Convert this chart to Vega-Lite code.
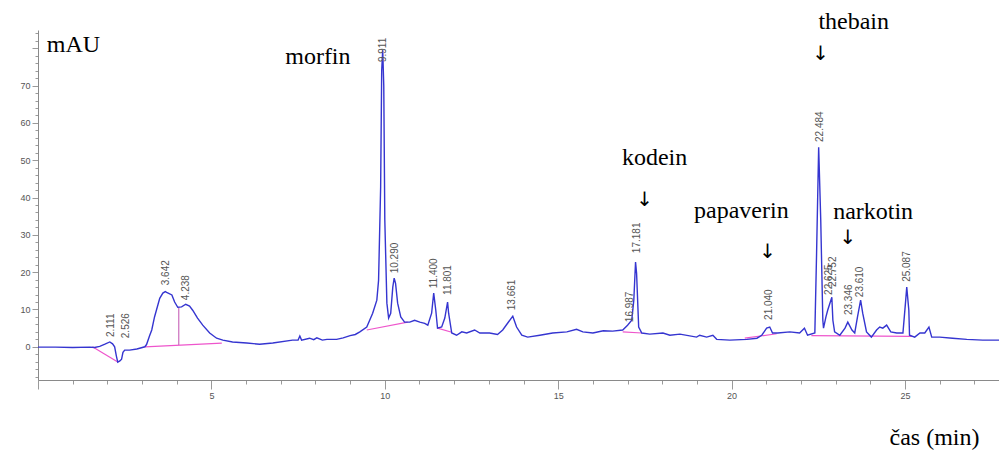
{
  "$schema": "https://vega.github.io/schema/vega-lite/v6.json",
  "width": 961,
  "height": 350,
  "autosize": "none",
  "padding": {"left": 38, "top": 30, "right": 0, "bottom": 72},
  "background": "white",
  "config": {"view": {"stroke": null}, "font": "Liberation Sans"},
  "datasets": {
    "trace": [
      {"t":0,"v":-0.1},{"t":0.5,"v":-0.1},{"t":1.0,"v":-0.2},{"t":1.49,"v":-0.1},{"t":1.63,"v":-0.2},{"t":1.78,"v":0.1},{"t":1.93,"v":0.7},{"t":2.07,"v":1.3},{"t":2.15,"v":0.8},{"t":2.21,"v":0.0},{"t":2.26,"v":-2.5},{"t":2.30,"v":-4.1},{"t":2.36,"v":-3.8},{"t":2.41,"v":-3.3},{"t":2.45,"v":-1.5},{"t":2.50,"v":-0.9},{"t":2.64,"v":-0.9},{"t":2.85,"v":-0.6},{"t":2.93,"v":-0.4},{"t":3.08,"v":0.0},{"t":3.13,"v":0.6},{"t":3.22,"v":3.0},{"t":3.28,"v":4.5},{"t":3.36,"v":8.0},{"t":3.42,"v":10.0},{"t":3.51,"v":13.0},{"t":3.60,"v":14.4},{"t":3.67,"v":14.8},{"t":3.71,"v":14.6},{"t":3.86,"v":13.9},{"t":3.94,"v":12.0},{"t":4.03,"v":10.6},{"t":4.14,"v":10.7},{"t":4.26,"v":11.4},{"t":4.37,"v":10.9},{"t":4.46,"v":9.8},{"t":4.60,"v":7.7},{"t":4.75,"v":5.8},{"t":4.95,"v":3.7},{"t":5.15,"v":2.3},{"t":5.33,"v":1.8},{"t":5.61,"v":1.3},{"t":6.02,"v":1.0},{"t":6.39,"v":0.7},{"t":6.77,"v":1.0},{"t":7.34,"v":1.8},{"t":7.50,"v":1.8},{"t":7.55,"v":2.9},{"t":7.60,"v":1.8},{"t":7.83,"v":2.3},{"t":7.95,"v":1.9},{"t":8.04,"v":2.4},{"t":8.20,"v":1.8},{"t":8.33,"v":2.0},{"t":8.61,"v":2.0},{"t":8.80,"v":2.4},{"t":9.00,"v":3.0},{"t":9.15,"v":3.3},{"t":9.28,"v":4.0},{"t":9.48,"v":5.3},{"t":9.65,"v":9.0},{"t":9.77,"v":12.5},{"t":9.82,"v":17.8},{"t":9.88,"v":42.8},{"t":9.91,"v":74},{"t":9.94,"v":79.5},{"t":9.97,"v":70},{"t":10.00,"v":34},{"t":10.06,"v":11.7},{"t":10.11,"v":7.7},{"t":10.17,"v":9.0},{"t":10.23,"v":16},{"t":10.27,"v":18.4},{"t":10.31,"v":17},{"t":10.37,"v":11.7},{"t":10.46,"v":8.0},{"t":10.57,"v":6.6},{"t":10.72,"v":6.6},{"t":10.86,"v":7.1},{"t":11.01,"v":6.6},{"t":11.15,"v":6.3},{"t":11.24,"v":5.8},{"t":11.35,"v":9.0},{"t":11.41,"v":14.4},{"t":11.47,"v":9.8},{"t":11.52,"v":5.0},{"t":11.64,"v":5.3},{"t":11.73,"v":7.7},{"t":11.81,"v":12.0},{"t":11.84,"v":9.0},{"t":11.93,"v":3.7},{"t":12.07,"v":3.1},{"t":12.22,"v":4.0},{"t":12.36,"v":3.7},{"t":12.59,"v":4.5},{"t":12.74,"v":3.7},{"t":13.02,"v":3.7},{"t":13.25,"v":3.3},{"t":13.40,"v":4.5},{"t":13.54,"v":6.3},{"t":13.69,"v":8.2},{"t":13.80,"v":5.3},{"t":13.95,"v":3.1},{"t":14.12,"v":2.6},{"t":14.47,"v":3.1},{"t":14.84,"v":3.7},{"t":15.25,"v":4.0},{"t":15.53,"v":4.7},{"t":15.71,"v":4.0},{"t":16.0,"v":3.7},{"t":16.30,"v":4.3},{"t":16.57,"v":4.2},{"t":16.86,"v":4.5},{"t":17.00,"v":5.8},{"t":17.12,"v":7.1},{"t":17.18,"v":12.5},{"t":17.23,"v":22.7},{"t":17.26,"v":19.7},{"t":17.32,"v":5.3},{"t":17.41,"v":3.7},{"t":17.64,"v":3.4},{"t":18.02,"v":3.7},{"t":18.22,"v":3.1},{"t":18.51,"v":3.4},{"t":18.99,"v":2.6},{"t":19.08,"v":3.1},{"t":19.28,"v":2.6},{"t":19.46,"v":3.1},{"t":19.57,"v":2.0},{"t":19.95,"v":1.8},{"t":20.44,"v":2.0},{"t":20.73,"v":2.3},{"t":20.87,"v":3.1},{"t":21.01,"v":5.0},{"t":21.10,"v":5.3},{"t":21.18,"v":3.7},{"t":21.33,"v":3.7},{"t":21.68,"v":4.0},{"t":21.96,"v":3.7},{"t":22.10,"v":5.0},{"t":22.19,"v":3.1},{"t":22.40,"v":3.7},{"t":22.45,"v":25},{"t":22.51,"v":53.5},{"t":22.57,"v":34},{"t":22.63,"v":7.1},{"t":22.65,"v":5.0},{"t":22.72,"v":8.0},{"t":22.77,"v":9.8},{"t":22.89,"v":13.3},{"t":22.92,"v":7.1},{"t":22.97,"v":4.0},{"t":23.12,"v":3.1},{"t":23.27,"v":5.0},{"t":23.35,"v":6.6},{"t":23.47,"v":4.5},{"t":23.55,"v":3.7},{"t":23.63,"v":8.0},{"t":23.72,"v":12.5},{"t":23.78,"v":9.0},{"t":23.89,"v":4.0},{"t":24.03,"v":2.6},{"t":24.18,"v":4.5},{"t":24.27,"v":5.3},{"t":24.36,"v":5.0},{"t":24.47,"v":5.8},{"t":24.59,"v":4.0},{"t":24.76,"v":3.7},{"t":24.94,"v":3.7},{"t":25.02,"v":12.5},{"t":25.05,"v":16},{"t":25.11,"v":9.8},{"t":25.13,"v":3.1},{"t":25.28,"v":2.6},{"t":25.43,"v":3.7},{"t":25.57,"v":3.7},{"t":25.69,"v":5.3},{"t":25.77,"v":2.6},{"t":26.0,"v":2.6},{"t":26.37,"v":2.3},{"t":26.78,"v":2.0},{"t":27.24,"v":1.8},{"t":27.71,"v":1.8}
    ],
    "base": [
      {"seg":"a","t":1.57,"v":0},{"seg":"a","t":2.30,"v":-4.1},
      {"seg":"c","t":3.08,"v":0.0},{"seg":"c","t":5.30,"v":1.0},
      {"seg":"d","t":9.48,"v":4.5},{"seg":"d","t":10.66,"v":6.6},
      {"seg":"e","t":11.52,"v":5.0},{"seg":"e","t":11.93,"v":3.9},
      {"seg":"f","t":16.86,"v":4.0},{"seg":"f","t":17.41,"v":3.7},
      {"seg":"g","t":20.38,"v":2.3},{"seg":"g","t":21.30,"v":3.5},
      {"seg":"h","t":22.30,"v":3.0},{"seg":"h","t":25.20,"v":2.8}
    ],
    "drop": [{"t":4.06,"v":10.6,"v2":0.5}],
    "labels": [
      {"t":2.10,"v":2.6,"label":"2.111"},
      {"t":2.53,"v":2.3,"label":"2.526"},
      {"t":3.68,"v":16.5,"label":"3.642"},
      {"t":4.26,"v":12.5,"label":"4.238"},
      {"t":9.94,"v":76.3,"label":"9.911"},
      {"t":10.29,"v":19.7,"label":"10.290"},
      {"t":11.41,"v":15.7,"label":"11.400"},
      {"t":11.81,"v":13.9,"label":"11.801"},
      {"t":13.66,"v":9.8,"label":"13.661"},
      {"t":17.06,"v":6.6,"label":"16.987"},
      {"t":17.26,"v":25.1,"label":"17.181"},
      {"t":21.07,"v":7.2,"label":"21.040"},
      {"t":22.54,"v":54.9,"label":"22.484"},
      {"t":22.80,"v":13.9,"label":"22.625"},
      {"t":22.91,"v":16.0,"label":"22.752"},
      {"t":23.38,"v":8.5,"label":"23.346"},
      {"t":23.70,"v":13.3,"label":"23.610"},
      {"t":25.05,"v":17.4,"label":"25.087"}
    ],
    "names": [
      {"t":8.07,"v":77.6,"name":"morfin"},
      {"t":17.78,"v":50.6,"name":"kodein"},
      {"t":20.28,"v":36.4,"name":"papaverin"},
      {"t":24.08,"v":36.1,"name":"narkotin"},
      {"t":23.52,"v":87.1,"name":"thebain"}
    ],
    "arrows": [
      {"t":17.49,"v":39.3,"name":"↓"},
      {"t":21.04,"v":25.4,"name":"↓"},
      {"t":23.35,"v":29.2,"name":"↓"},
      {"t":22.57,"v":78.5,"name":"↓"}
    ]
  },
  "encoding": {
    "x": {
      "field": "t", "type": "quantitative",
      "scale": {"domain": [0, 27.71], "nice": false, "zero": false},
      "axis": {
        "values": [0,1,2,3,4,5,6,7,8,9,10,11,12,13,14,15,16,17,18,19,20,21,22,23,24,25,26,27],
        "labelExpr": "datum.value % 5 === 0 && datum.value > 0 ? datum.label : ''",
        "tickSize": {"condition": {"test": "datum.value % 5 === 0", "value": 9}, "value": 4},
        "labelOverlap": false, "labelFlush": false,
        "grid": false,
        "domainColor": "#8a8a8a", "tickColor": "#9a9a9a",
        "labelColor": "#555", "labelFontSize": 9, "labelPadding": 2,
        "title": "čas (min)", "titleFont": "Liberation Serif", "titleFontSize": 24,
        "titleFontWeight": "normal", "titleColor": "#000",
        "titleX": 896, "titleY": 57, "titleAlign": "center", "titleBaseline": "middle"
      }
    },
    "y": {
      "field": "v", "type": "quantitative",
      "scale": {"domain": [-8.9, 84.9], "nice": false, "zero": false},
      "axis": {
        "values": [-8,-6,-4,-2,0,2,4,6,8,10,12,14,16,18,20,22,24,26,28,30,32,34,36,38,40,42,44,46,48,50,52,54,56,58,60,62,64,66,68,70,72,74,76,78,80,82,84],
        "labelExpr": "datum.value % 10 === 0 && datum.value >= 0 && datum.value <= 70 ? datum.label : ''",
        "tickSize": {"condition": {"test": "datum.value % 10 === 0", "value": 6}, "value": 3},
        "labelOverlap": false, "labelFlush": false,
        "grid": false,
        "domainColor": "#8a8a8a", "tickColor": "#9a9a9a",
        "labelColor": "#555", "labelFontSize": 9, "labelPadding": 2,
        "title": "mAU", "titleFont": "Liberation Serif", "titleFontSize": 24,
        "titleFontWeight": "normal", "titleColor": "#000", "titleAngle": 0,
        "titleX": 35, "titleY": 14, "titleAlign": "center", "titleBaseline": "middle"
      }
    }
  },
  "layer": [
    {"data": {"name": "base"}, "mark": {"type": "line", "color": "#ee55cc", "strokeWidth": 1.2}, "encoding": {"detail": {"field": "seg"}}},
    {"data": {"name": "drop"}, "mark": {"type": "rule", "color": "#c050b0", "strokeWidth": 1}, "encoding": {"y2": {"field": "v2"}}},
    {"data": {"name": "trace"}, "mark": {"type": "line", "color": "#3535d0", "strokeWidth": 1.4}, "encoding": {}},
    {"data": {"name": "labels"}, "mark": {"type": "text", "angle": 270, "align": "left", "baseline": "middle", "fontSize": 10, "color": "#555"}, "encoding": {"text": {"field": "label"}}},
    {"data": {"name": "names"}, "mark": {"type": "text", "align": "center", "baseline": "middle", "font": "Liberation Serif", "fontSize": 24, "color": "#000"}, "encoding": {"text": {"field": "name"}}},
    {"data": {"name": "arrows"}, "mark": {"type": "text", "align": "center", "baseline": "middle", "font": "DejaVu Sans", "fontSize": 20, "color": "#000"}, "encoding": {"text": {"field": "name"}}}
  ]
}
